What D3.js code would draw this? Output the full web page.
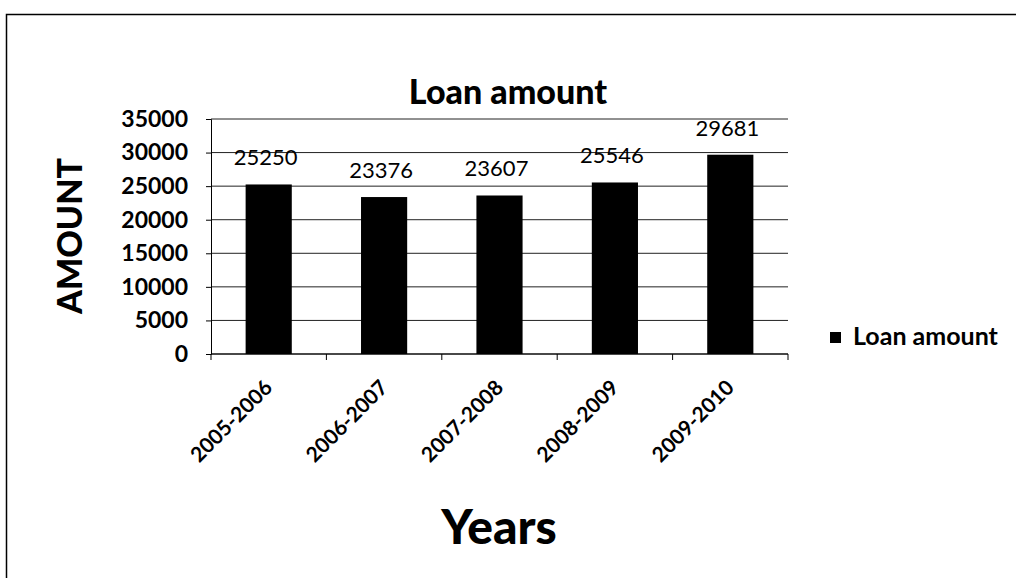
<!DOCTYPE html>
<html>
<head>
<meta charset="utf-8">
<script src="https://cdn.jsdelivr.net/npm/d3@7"></script>
<style>
  body { margin: 0; background: #fff; }
  text { font-family: Lato, "Open Sans", sans-serif; fill: #000; }
</style>
</head>
<body>
<svg id="chart" width="1016" height="578"></svg>
<script>
var years = ["2005-2006", "2006-2007", "2007-2008", "2008-2009", "2009-2010"];
var loanAmount = [25250, 23376, 23607, 25546, 29681];
var yTicks = [0, 5000, 10000, 15000, 20000, 25000, 30000, 35000];

var svg = d3.select("#chart");
var plotLeft = 211, plotRight = 788, plotTop = 119, plotBottom = 354;

// outer frame
svg.append("rect")
  .attr("x", 6.5).attr("y", 14.5)
  .attr("width", 1020).attr("height", 580)
  .attr("fill", "none").attr("stroke", "#000").attr("stroke-width", 1.5);

var x = d3.scaleBand().domain(years).range([plotLeft, plotRight]).paddingInner(0.6).paddingOuter(0.3);
var y = d3.scaleLinear().domain([0, 35000]).range([plotBottom, plotTop]);

// gridlines
svg.append("g").selectAll("line").data(yTicks).enter().append("line")
  .attr("x1", plotLeft).attr("x2", plotRight)
  .attr("y1", function(d){ return y(d); }).attr("y2", function(d){ return y(d); })
  .attr("stroke", "#222").attr("stroke-width", 1);

// y axis
var yAxis = svg.append("g")
  .attr("transform", "translate(" + plotLeft + ",0)")
  .call(d3.axisLeft(y).tickValues(yTicks).tickFormat(d3.format("d")).tickSize(5).tickPadding(18));
yAxis.selectAll("text").style("font-size", "23px").style("font-weight", "bold");
yAxis.select(".domain").attr("stroke", "#000");

// x axis: ticks on category boundaries
var bounds = d3.range(years.length + 1).map(function(i){ return plotLeft + i * (plotRight - plotLeft) / years.length; });
svg.append("line").attr("x1", plotLeft).attr("x2", plotRight).attr("y1", plotBottom).attr("y2", plotBottom)
  .attr("stroke", "#000").attr("stroke-width", 1.2);
svg.append("g").selectAll("line").data(bounds).enter().append("line")
  .attr("x1", function(d){ return d; }).attr("x2", function(d){ return d; })
  .attr("y1", plotBottom).attr("y2", plotBottom + 6)
  .attr("stroke", "#000");

// bars
svg.append("g").selectAll("rect").data(loanAmount).enter().append("rect")
  .attr("x", function(d, i){ return x(years[i]); })
  .attr("y", function(d){ return y(d); })
  .attr("width", x.bandwidth())
  .attr("height", function(d){ return plotBottom - y(d); })
  .attr("fill", "#000");

// data labels
svg.append("g").selectAll("text").data(loanAmount).enter().append("text")
  .attr("x", function(d, i){ return x(years[i]) + x.bandwidth() / 2 - 3; })
  .attr("y", function(d){ return y(d) - 19; })
  .attr("text-anchor", "middle")
  .style("font-size", "22px")
  .text(function(d){ return d; });

// category labels
svg.append("g").selectAll("text").data(years).enter().append("text")
  .attr("transform", function(d){
    return "translate(" + (x(d) + x.bandwidth() / 2 + 5) + "," + (plotBottom + 35) + ") rotate(-45)";
  })
  .attr("text-anchor", "end")
  .style("font-size", "21px").style("font-weight", "bold")
  .text(function(d){ return d; });

// titles
svg.append("text").attr("x", 508).attr("y", 104).attr("text-anchor", "middle")
  .style("font-size", "34px").style("font-weight", "900").text("Loan amount");
svg.append("text").attr("transform", "translate(82,236) rotate(-90)").attr("text-anchor", "middle")
  .style("font-size", "34px").style("font-weight", "900").text("AMOUNT");
svg.append("text").attr("x", 499).attr("y", 544).attr("text-anchor", "middle")
  .style("font-size", "48px").style("font-weight", "900").text("Years");

// legend
svg.append("rect").attr("x", 830).attr("y", 332).attr("width", 11).attr("height", 11).attr("fill", "#000");
svg.append("text").attr("x", 853).attr("y", 345)
  .style("font-size", "25px").style("font-weight", "bold").text("Loan amount");
</script>
</body>
</html>
